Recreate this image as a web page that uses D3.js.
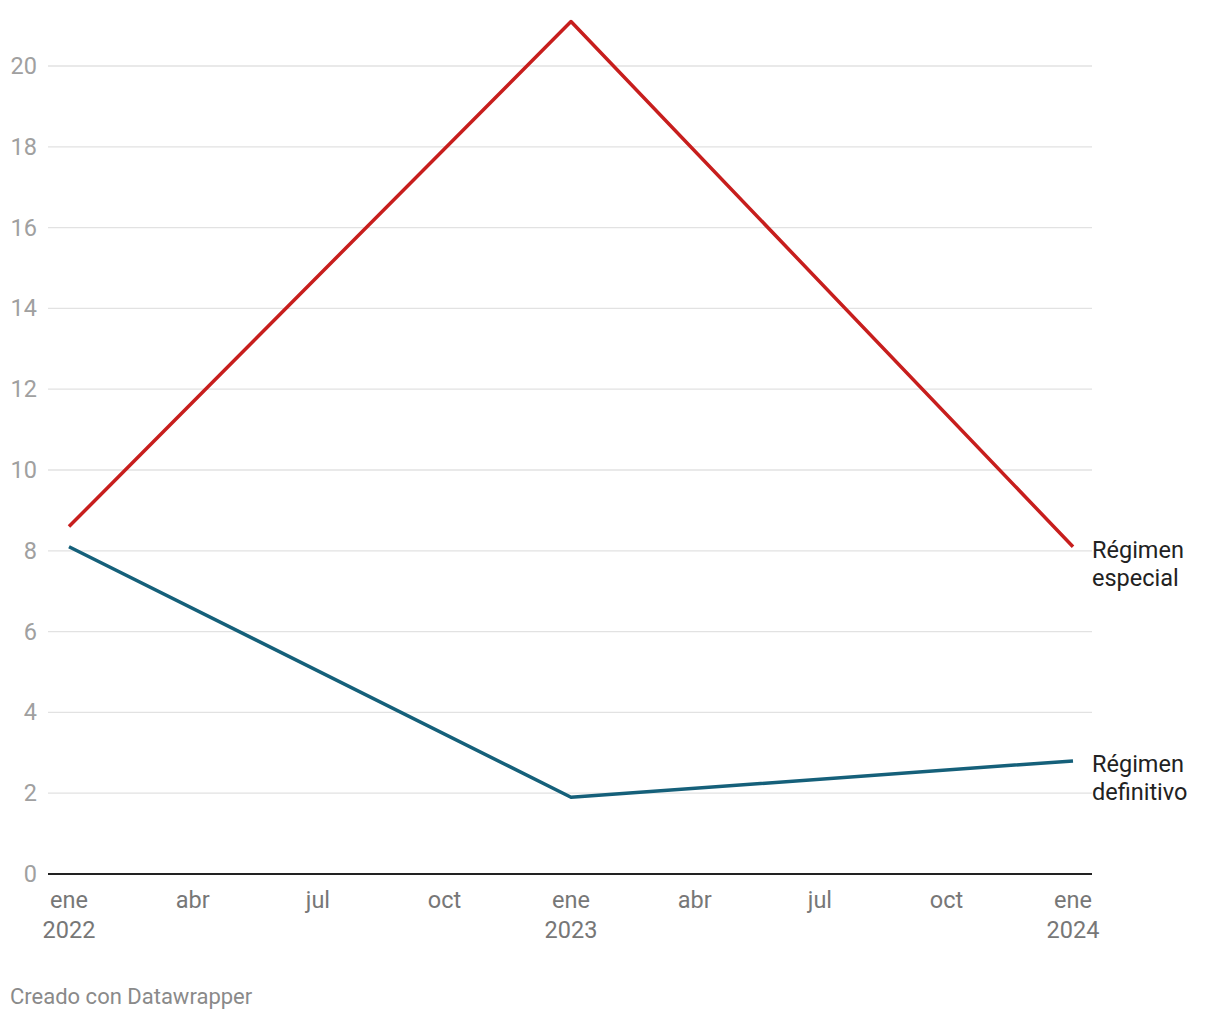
<!DOCTYPE html>
<html><head><meta charset="utf-8">
<script src="https://cdn.jsdelivr.net/npm/d3@7"></script>
<style>body{margin:0;background:#fff;font-family:Roboto,sans-serif}</style>
</head><body>
<svg id="c" width="1220" height="1020"></svg>
<script>
const dates = ["2022-01-01","2023-01-01","2024-01-01"];
const especial = [8.6, 21.1, 8.1];
const definitivo = [8.1, 1.9, 2.8];
const seriesNames = [["Régimen","especial"],["Régimen","definitivo"]];
const seriesColors = ["#c71e1d","#15607a"];
const yTicks = [0,2,4,6,8,10,12,14,16,18,20];
const monthNames = ["ene","feb","mar","abr","may","jun","jul","ago","sep","oct","nov","dic"];

const svg = d3.select("#c");
const parse = d3.timeParse("%Y-%m-%d");
const x = d3.scaleTime().domain([parse(dates[0]), parse(dates[2])]).range([69,1073]);
const y = d3.scaleLinear().domain([0,20]).range([874,66]);
const FS = 23.5;

// gridlines
svg.append("g").selectAll("line").data(yTicks.filter(d=>d>0)).join("line")
  .attr("x1",48).attr("x2",1092).attr("y1",d=>y(d)).attr("y2",d=>y(d))
  .attr("stroke","#e2e2e2").attr("stroke-width",1.3);
// y labels
svg.append("g").selectAll("text").data(yTicks).join("text")
  .attr("x",37).attr("y",d=>y(d)+8).attr("text-anchor","end")
  .attr("font-size",FS).attr("fill","#a0a0a0").text(d=>d);
// baseline
svg.append("line").attr("x1",48).attr("x2",1092).attr("y1",y(0)).attr("y2",y(0))
  .attr("stroke","#222").attr("stroke-width",2);

// x ticks
const xt = d3.timeMonth.every(3).range(parse("2022-01-01"), d3.timeDay.offset(parse("2024-01-01"),1));
const xg = svg.append("g");
xt.forEach(d=>{
  xg.append("text").attr("x",x(d)).attr("y",908).attr("text-anchor","middle")
    .attr("font-size",FS).attr("fill","#777").text(monthNames[d.getMonth()]);
  if(d.getMonth()===0){
    xg.append("text").attr("x",x(d)).attr("y",938).attr("text-anchor","middle")
      .attr("font-size",FS).attr("fill","#777").text(d.getFullYear());
  }
});

const line = d3.line().x((d,i)=>x(parse(dates[i]))).y(d=>y(d));
[especial, definitivo].forEach((s,k)=>{
  svg.append("path").datum(s).attr("d",line).attr("fill","none")
    .attr("stroke",seriesColors[k]).attr("stroke-width",3.5).attr("stroke-linejoin","round");
  const yy = y(s[s.length-1]);
  const t = svg.append("text").attr("x",1092).attr("y",yy+11).attr("font-size",FS).attr("fill","#222");
  seriesNames[k].forEach((w,j)=>{
    t.append("tspan").attr("x",1092).attr("dy",j===0?0:28).text(w);
  });
});

svg.append("text").attr("x",10).attr("y",1004).attr("font-size",22).attr("fill","#8a8a8a")
  .text("Creado con Datawrapper");
</script>
</body></html>
